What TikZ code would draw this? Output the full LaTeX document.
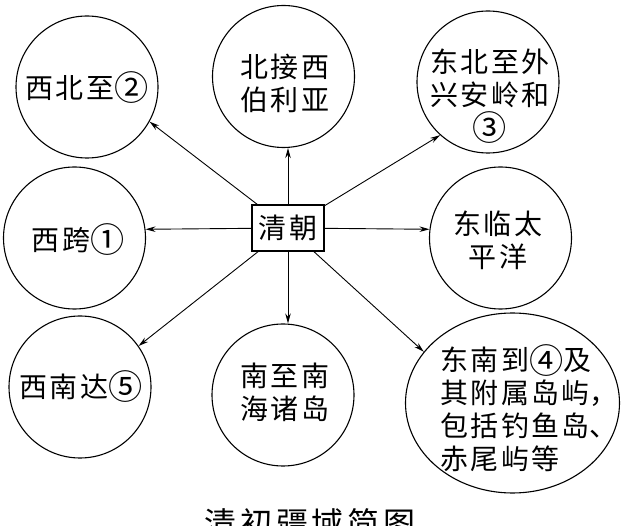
\documentclass[tikz,border=0pt]{standalone}
\usepackage{graphicx}
\usepackage{fontspec}
\newfontfamily\cjk{Noto Sans CJK SC}[LetterSpace=8]
\newfontfamily\cjkcap{Noto Sans CJK SC}[LetterSpace=12]
\newcommand{\circnum}[1]{\raisebox{-2.5pt}{\scalebox{1.22}{#1}}}
\usetikzlibrary{arrows.meta,shapes.geometric}
\tikzset{
  circ/.style={circle,draw,line width=1.1pt,minimum size=142pt,inner sep=0pt},
  oval/.style={ellipse,draw,line width=1.1pt,minimum width=214pt,minimum height=180pt,inner sep=0pt},
  txt/.style={font=\cjk\fontsize{28}{33}\selectfont,align=center,inner sep=0pt},
  centerbox/.style={rectangle,draw,line width=1.1pt,minimum width=72pt,minimum height=46pt,inner sep=0pt,font=\cjk\fontsize{28}{33}\selectfont},
  arr/.style={-{Stealth[length=10pt,width=5.5pt]},line width=0.9pt},
  caption/.style={font=\cjkcap\fontsize{32}{36}\selectfont,inner sep=0pt}
}
\begin{document}
\begin{tikzpicture}[x=1pt,y=-1pt]
\useasboundingbox (0,0) rectangle (627,526);
% circles
\node[circ] (nw) at (87,87) {};
\node[circ] (n) at (283.5,76.5) {};
\node[circ] (ne) at (488,82) {};
\node[circ] (w) at (74.5,238) {};
\node[circ] (e) at (500.5,238) {};
\node[circ] (sw) at (80,387) {};
\node[circ] (s) at (283,395) {};
\node[oval] (se) at (512.5,403) {};
% texts
\node[txt] (nw-t) at (87,88) {西北至\circnum{②}};
\node[txt] (n-t) at (285,83.5) {北接西\\伯利亚};
\node[txt] (ne-t) at (490,96) {东北至外\\兴安岭和\\\circnum{③}};
\node[txt] (w-t) at (78,240) {西跨\circnum{①}};
\node[txt] (e-t) at (498,240) {东临太\\平洋};
\node[txt] (sw-t) at (81,387) {西南达\circnum{⑤}};
\node[txt] (s-t) at (285,392) {南至南\\海诸岛};
\node[txt,align=left] (se-t) at (516,408) {东南到\circnum{④}及\\其附属岛屿\makebox[0pt][l]{，}\\包括钓鱼岛\makebox[0pt][l]{、}\\赤尾屿等};
% centre
\node[centerbox,fill=white] (c) at (288,228) {清朝};
% arrows
\draw[arr] (c) -- (nw.-29);
\draw[arr] (c) -- (c |- n.south);
\draw[arr] (c) -- (ne.228);
\draw[arr] (c) -- (w.7);
\draw[arr] (c) -- (e.173);
\draw[arr] (c) -- (sw.35);
\draw[arr] (c) -- (c |- s.north);
\draw[arr] (c) -- (se.150);
% caption (cut off at the lower edge, as in the reference)
\node[caption] (cap) at (310,523) {清初疆域简图};
\end{tikzpicture}
\end{document}
